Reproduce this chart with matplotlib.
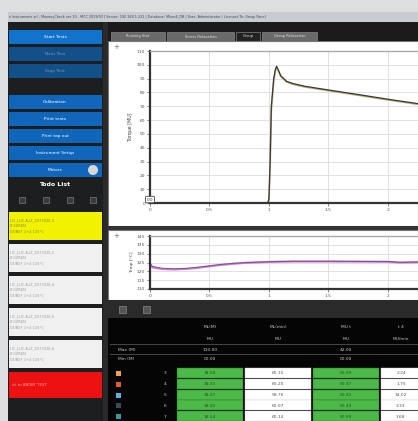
import numpy as np
import matplotlib
matplotlib.use("Agg")
import matplotlib.pyplot as plt
from matplotlib.patches import Rectangle, Circle, FancyBboxPatch

W, H = 418, 421

# torque curves (two overlapping specimens)
torque_t = [0, 0.5, 0.99, 1.0, 1.01, 1.02, 1.04, 1.055, 1.065, 1.08, 1.1, 1.15, 1.2, 1.3, 1.5, 1.75, 2.0, 2.27]
torque_a = [0, 0, 0, 3, 30, 70, 90, 97, 99, 96, 92, 88, 86.5, 84.5, 81.8, 78.5, 75.1, 71.7]
torque_b = [0, 0, 0, 2, 27, 67, 88, 96, 98, 95.5, 91.5, 87.5, 86, 84, 81.3, 78, 74.6, 71.2]

# temperature curves
temp_t = [0, 0.02, 0.1, 0.2, 0.3, 0.4, 0.5, 0.6, 0.7, 0.8, 0.9, 1.0, 1.2, 1.5, 1.8, 2.0, 2.1, 2.27]
temp_a = [124.5, 122.8, 121.8, 121.4, 121.6, 122.3, 123.1, 123.9, 124.5, 124.9, 125.2, 125.4, 125.7, 125.7, 125.6, 125.5, 125.1, 125.3]
temp_b = [124.0, 122.3, 121.3, 121.1, 121.4, 122.0, 122.9, 123.7, 124.3, 124.8, 125.1, 125.3, 125.6, 125.6, 125.5, 125.4, 125.0, 125.2]

# side menu
buttons = ["Start Tests", "Next Test", "Stop Test", "Calibration", "Print tests",
           "Print tap out", "Instrument Setup", "Motors"]
tabs = ["Running Stat", "Stress Relaxation", "Group", "Group Relaxation"]
todo = ["UC_LUC A-LT_2077026-3\nLT-50REN\nDONEY 1+4 125\u00b0C",
        "UC_LUC A-LT_2077026-2\nLT-50REN\nDONEY 1+4 125\u00b0C",
        "UC_LUC A-LT_2077026-4\nLT-50REN\nDONEY 1+4 125\u00b0C",
        "UC_LUC A-LT_2077026-5\nLT-50REN\nDONEY 1+4 125\u00b0C",
        "UC_LUC A-LT_2077026-6\nLT-50REN\nDONEY 1+4 125\u00b0C"]

# table
col_names = ["ML(M)", "ML(min)", "MU t", "t 4"]
col_units = ["MU", "MU", "MU", "MU/min"]
max_vals = ["110.00", "", "42.00", ""]
min_vals = ["00.00", "", "00.00", ""]
row_ids = ["3", "4", "5", "6", "7"]
row_colors = ["#f0a050", "#e05a3a", "#5ab0e0", "#3a4a5a", "#3a9a9a"]
col1 = ["38.58", "38.43", "38.07", "38.40", "38.54"]
col2 = ["60.15", "60.20", "59.76", "60.07", "60.14"]
col3 = ["60.09", "60.47", "60.42", "60.44", "60.90"]
col4 = ["2.24", "1.75", "14.02", "3.33", "3.68"]

fig = plt.figure(figsize=(W / 100, H / 100), dpi=100)
bg = fig.add_axes([0, 0, 1, 1])
bg.set_xlim(0, W)
bg.set_ylim(H, 0)
bg.axis("off")

def box(x, y, w, h, c, **kw):
    bg.add_patch(Rectangle((x, y), w, h, facecolor=c, edgecolor=kw.pop("ec", "none"), lw=kw.pop("lw", 0), **kw))

def txt(x, y, s, c="white", size=3.2, **kw):
    bg.text(x, y, s, color=c, fontsize=size, va="center", **kw)

# screen outside + window
box(0, 0, W, H, "#dcdee0")
box(8, 12, W - 8, H - 12, "#151515")
box(8, 12, W - 8, 10, "#c8ccd0")
txt(9, 17, "e Instruments srl - MooneyCheck ver 10 - MCC 2019/03 | Server: 192.168.1.221 | Database: Mixer4_DB | "
    "User: Administrator | Licensed To: Group Panel", c="#404850", size=2.4)

# left menu
box(8, 22, 97, H - 22, "#1d1e20")
ys = [30, 47, 64, 95, 112, 129, 146, 163]
cols = ["#1273cc", "#134f88", "#134f88", "#0f66bb", "#0f66bb", "#0f66bb", "#0f66bb", "#0f66bb"]
tcol = ["white", "#7a98b8", "#7a98b8", "white", "white", "white", "white", "white"]
for b, y, c, tc in zip(buttons, ys, cols, tcol):
    box(9, y, 93, 14, c)
    txt(55, y + 7, b, c=tc, ha="center")
bg.add_patch(Circle((93, 170), 5, facecolor="#d8d8d8", edgecolor="none"))
txt(55, 185, "Todo List", size=4.5, ha="center", weight="bold")
for x in [22, 46, 70, 93]:
    box(x - 3, 197, 6, 6, "#3a3a3a", ec="#777777", lw=0.5)

todo_y = [212, 244, 276, 308, 340]
todo_c = ["#f2f200", "#f0f0f0", "#f0f0f0", "#f0f0f0", "#f0f0f0"]
for s, y, c in zip(todo, todo_y, todo_c):
    box(9, y, 93, 28, c)
    txt(10, y + 14, s, c="#8a8a40" if c != "#f0f0f0" else "#a0a0a0", size=2.6, linespacing=1.6)
box(9, 372, 93, 26, "#ee1111")
txt(12, 385, "ck to BADBY TEST", c="#f0a0a0", size=2.8)
box(103, 22, 5, H - 22, "#2a2a2a")

# right side: tabs
box(108, 22, W - 108, 18, "#1b1b1b")
tab_x = [111, 167, 236, 262]
tab_w = [54, 67, 24, 55]
for t, x, w in zip(tabs, tab_x, tab_w):
    box(x, 32, w, 9, "#222222" if t == "Group" else "#6a6a6a", ec="#999999", lw=0.4)
    txt(x + w / 2, 36.5, t, c="#e0e0e0", size=2.6, ha="center")

# chart panels
box(108, 41, W - 108, 185, "white", ec="#777777", lw=0.8)
box(108, 226, W - 108, 4, "#333333")
box(108, 230, W - 108, 70, "white", ec="#777777", lw=0.8)
txt(116, 47, "+", c="#666666", size=5, ha="center")
txt(116, 236, "+", c="#666666", size=5, ha="center")

def px_axes(x0, y0, x1, y1):
    return fig.add_axes([x0 / W, 1 - y1 / H, (x1 - x0) / W, (y1 - y0) / H])

def style(ax):
    ax.set_xlim(0, 2.27)
    ax.set_xticks([0, 0.5, 1, 1.5, 2])
    ax.set_xticklabels(["0", "0.5", "1", "1.5", "2"])
    ax.grid(True, color="#dcdcdc", lw=0.6)
    ax.tick_params(labelsize=3.2, colors="#555555", length=2, width=0.5, pad=1.5)
    for s in ["left", "bottom"]:
        ax.spines[s].set_linewidth(1.6)
        ax.spines[s].set_color("#333333")
    for s in ["top", "right"]:
        ax.spines[s].set_linewidth(1.0)
        ax.spines[s].set_color("#aaaaaa")

ax1 = px_axes(150, 51, W + 2, 203)
ax1.plot(torque_t, torque_b, color="#b8a878", lw=1.2)
ax1.plot(torque_t, torque_a, color="#3a3a3a", lw=0.9)
ax1.set_ylim(0, 110)
ax1.set_yticks(range(0, 111, 10))
ax1.set_ylabel("Torque [MU]", fontsize=3.4, color="#444444", labelpad=3)
style(ax1)
ax1.text(0.0, 2.5, "0.0", fontsize=3, color="#333333", ha="center", va="center",
         bbox=dict(boxstyle="round,pad=0.3", fc="white", ec="#444444", lw=0.6))

ax2 = px_axes(150, 236, W + 2, 289)
ax2.plot(temp_t, temp_b, color="#d878d0", lw=1.6)
ax2.plot(temp_t, temp_a, color="#404a80", lw=0.6, alpha=0.8)
ax2.set_ylim(110, 140)
ax2.set_yticks(range(110, 141, 5))
ax2.set_ylabel("Temp [\u00b0C]", fontsize=3.2, color="#444444", labelpad=2)
style(ax2)

# toolbar and table
box(108, 300, W - 108, 18, "#2a2a2a")
for x in [122, 146]:
    box(x - 3, 306, 7, 7, "#555555", ec="#888888", lw=0.5)
box(108, 318, W - 108, H - 318, "#050505")

col_x = [177, 245, 313, 381]
col_w = 66
text_x = [210, 278, 346, 401]
for i, (n, u, mx, mn) in enumerate(zip(col_names, col_units, max_vals, min_vals)):
    cx = text_x[i]
    txt(cx, 327, n, c="#c8c8c8", ha="center")
    txt(cx, 339, u, c="#c8c8c8", ha="center")
    txt(cx, 350, mx, c="#c8c8c8", ha="center")
    txt(cx, 359, mn, c="#c8c8c8", ha="center")
box(110, 344, W - 110, 0.6, "#444444")
box(110, 354, W - 110, 0.6, "#444444")
txt(118, 350, "Max (M)", c="#c8c8c8")
txt(118, 359, "Min (M)", c="#c8c8c8")

row_h = 10.8
for r, (rid, rc) in enumerate(zip(row_ids, row_colors)):
    y = 368 + r * row_h
    box(116, y + 3, 5, 5, rc)
    txt(165, y + row_h / 2, rid, c="#c8c8c8", ha="center")
    for j, vals in enumerate([col1, col2, col3, col4]):
        c = "#4cb848" if j % 2 == 0 else "white"
        box(col_x[j], y, col_w, row_h - 0.8, c, ec="#2a7a2a" if j % 2 == 0 else "#cccccc", lw=0.3)
        txt(text_x[j], y + row_h / 2, vals[r], c="#2a5a2a" if j % 2 == 0 else "#555555", ha="center")

fig.savefig("out.png", dpi=100)
